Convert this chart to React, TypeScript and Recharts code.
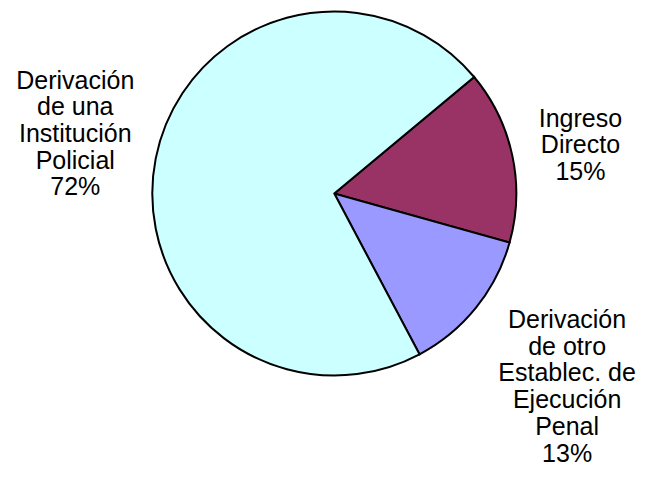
import React from 'react';
import { PieChart, Pie, Cell } from 'recharts';

const categories = [
  ['Ingreso', 'Directo'],
  ['Derivación', 'de otro', 'Establec. de', 'Ejecución', 'Penal'],
  ['Derivación', 'de una', 'Institución', 'Policial'],
];
const shares = [15.4, 12.9, 71.7];
const colors = ['#993366', '#9999FF', '#CCFFFF'];

// where each text block sits, relative to the slice's middle angle
const labelRadius = [251, 302, 266];
const labelAngleShift = [-0.8, -0.7, -2];

const data = categories.map((lines, i) => ({ name: lines.join(' '), value: shares[i] }));

const FONT_SIZE = 25;
const LINE_H = 26.7;
const RAD = Math.PI / 180;

const renderLabel = (props: any) => {
  const { cx, cy, midAngle, percent, index } = props;
  const r = labelRadius[index];
  const a = (midAngle + labelAngleShift[index]) * RAD;
  const x = cx + r * Math.cos(-a);
  const y = cy + r * Math.sin(-a);
  const lines = [...categories[index], `${Math.round(percent * 100)}%`];
  const firstBaseline = y - ((lines.length - 1) / 2) * LINE_H + FONT_SIZE * 0.358;
  return (
    <text
      key={`lbl-${index}`}
      x={x}
      y={firstBaseline}
      textAnchor="middle"
      fill="#000"
      fontSize={FONT_SIZE}
      fontFamily="'Liberation Sans', Arial, sans-serif"
    >
      {lines.map((t, i) => (
        <tspan key={i} x={x} dy={i === 0 ? 0 : LINE_H}>
          {t}
        </tspan>
      ))}
    </text>
  );
};

export default function App() {
  return (
    <PieChart
      width={639}
      height={473}
      margin={{ top: 0, right: 0, bottom: 0, left: 0 }}
      style={{ overflow: 'visible' }}
    >
      <Pie
        data={data}
        dataKey="value"
        nameKey="name"
        cx={326.3}
        cy={185.5}
        outerRadius={182}
        startAngle={39.8}
        endAngle={-320.2}
        stroke="#000"
        strokeWidth={2}
        label={renderLabel}
        labelLine={false}
        isAnimationActive={false}
      >
        {data.map((d, i) => (
          <Cell key={d.name + i} fill={colors[i]} />
        ))}
      </Pie>
    </PieChart>
  );
}
